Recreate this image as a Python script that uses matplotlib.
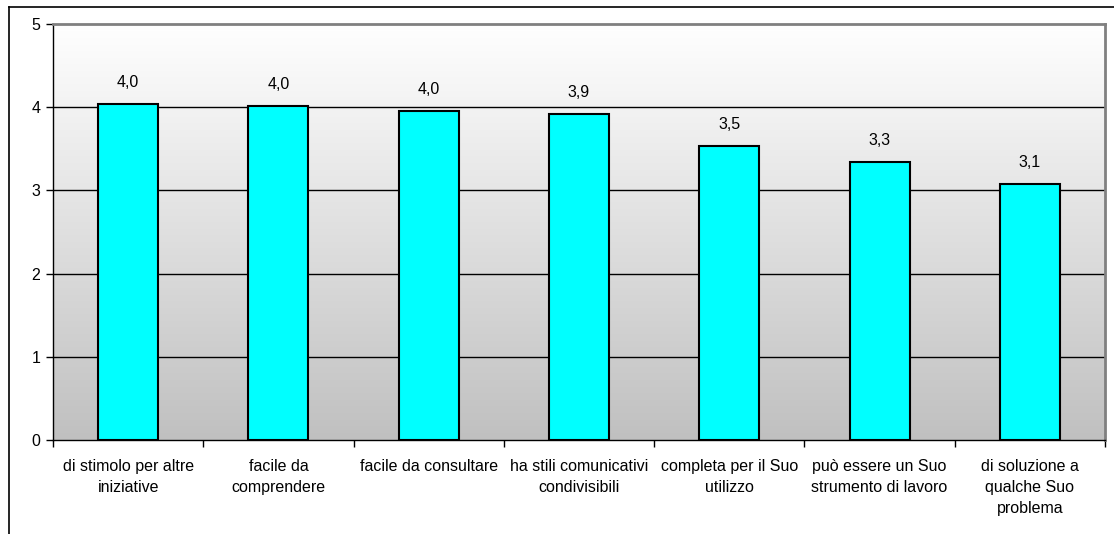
import numpy as np
import matplotlib
matplotlib.use("Agg")
import matplotlib.pyplot as plt
from matplotlib.lines import Line2D

plt.rcParams['font.family'] = ['Liberation Sans', 'DejaVu Sans']

categories = [
    "di stimolo per altre\niniziative",
    "facile da\ncomprendere",
    "facile da consultare",
    "ha stili comunicativi\ncondivisibili",
    "completa per il Suo\nutilizzo",
    "può essere un Suo\nstrumento di lavoro",
    "di soluzione a\nqualche Suo\nproblema",
]
values = [4.04, 4.02, 3.96, 3.92, 3.53, 3.34, 3.08]
y_ticks = [0, 1, 2, 3, 4, 5]

fig = plt.figure(figsize=(11.14, 5.34), dpi=100)
ax = fig.add_axes([53 / 1114, 1 - 440 / 534, (1105 - 53) / 1114, (440 - 24) / 534])

n = len(categories)
x = np.arange(n)

# vertical gradient background: white at top, silver at bottom
grad = np.linspace(1.0, 0.0, 256).reshape(-1, 1)
top = np.array([1.0, 1.0, 1.0])
bot = np.array([0.753, 0.753, 0.753])
img = bot + (top - bot) * grad[..., None]
ax.imshow(img, extent=[-0.5, n - 0.5, 0, 5], aspect='auto', zorder=0,
          interpolation='bilinear')

for yv in y_ticks[1:-1]:
    ax.axhline(yv, color='black', lw=1.0, zorder=1)

ax.bar(x, values, width=0.4, color='#00ffff', edgecolor='black', lw=1.5, zorder=2)

for xi, v in zip(x, values):
    ax.annotate(f"{v:.1f}".replace('.', ','), (xi, v), xytext=(0, 10),
                textcoords='offset points', ha='center', va='bottom',
                fontsize=11.5, color='black')

ax.set_xlim(-0.5, n - 0.5)
ax.set_ylim(0, 5)
ax.set_yticks(y_ticks)
ax.set_yticklabels([str(t) for t in y_ticks], fontsize=11.5)

ax.set_xticks(np.arange(n + 1) - 0.5)
ax.set_xticklabels([])
ax.set_xticks(x, minor=True)
ax.set_xticklabels(categories, minor=True, fontsize=11.5, linespacing=1.5)
ax.tick_params(axis='x', which='major', direction='out', length=5, width=1, color='black')
ax.tick_params(axis='x', which='minor', length=0, pad=14)
ax.tick_params(axis='y', direction='out', length=5, width=1, pad=4)

for s in ['left', 'bottom']:
    ax.spines[s].set_color('black')
    ax.spines[s].set_linewidth(1.0)
for s in ['top', 'right']:
    ax.spines[s].set_color('#808080')
    ax.spines[s].set_linewidth(2.0)

# outer chart border
fig.add_artist(Line2D([9 / 1114, 1.0], [1 - 7 / 534, 1 - 7 / 534],
                      transform=fig.transFigure, color='black', lw=1.2))
fig.add_artist(Line2D([9 / 1114, 9 / 1114], [0.0, 1 - 7 / 534],
                      transform=fig.transFigure, color='black', lw=1.2))

fig.savefig("out.png", dpi=100)
